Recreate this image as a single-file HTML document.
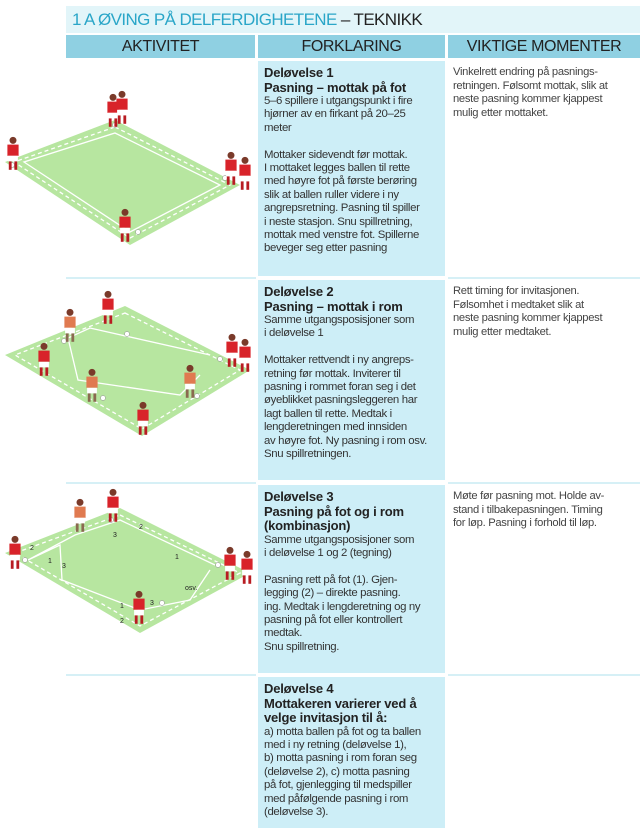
<!DOCTYPE html>
<html><head><meta charset="utf-8"><style>
body{margin:0;width:642px;height:828px;background:#fff;position:relative;overflow:hidden;font-family:"Liberation Sans Narrow","Liberation Sans",sans-serif;color:#333}
.abs{position:absolute}
.title{left:66px;top:6px;width:574px;height:27px;background:#e2f5f9;font-size:17px;line-height:27px;color:#2aa6c8;padding-left:6px;box-sizing:border-box;letter-spacing:-0.6px}
.title b{color:#222;font-weight:normal}
.hd{top:35px;height:23px;background:#8fd0e2;font-size:16px;line-height:23px;text-align:center;color:#222;letter-spacing:-0.4px}
.mid{left:258px;width:187px;background:#cdeef7;font-size:11.4px;line-height:13.4px;padding:5px 6px;box-sizing:border-box;color:#333;letter-spacing:-0.35px;white-space:nowrap;overflow:hidden}
.mid .t{font-weight:bold;font-size:13px;line-height:14.5px;color:#222;letter-spacing:-0.2px}
.rt{left:453px;width:187px;font-size:11.2px;line-height:13.6px;color:#444;letter-spacing:-0.3px;white-space:nowrap}
.hl{height:2px;background:#d6f0f6}
</style></head><body>
<div class="abs title">1 A ØVING PÅ DELFERDIGHETENE <b>– TEKNIKK</b></div>
<div class="abs hd" style="left:66px;width:189px">AKTIVITET</div>
<div class="abs hd" style="left:258px;width:187px">FORKLARING</div>
<div class="abs hd" style="left:448px;width:192px">VIKTIGE MOMENTER</div>

<div class="abs mid" style="top:61px;height:215px"><div class="t">Deløvelse 1<br>Pasning – mottak på fot</div>5–6 spillere i utgangspunkt i fire<br>hjørner av en firkant på 20–25<br>meter<br><br>Mottaker sidevendt før mottak.<br>I mottaket legges ballen til rette<br>med høyre fot på første berøring<br>slik at ballen ruller videre i ny<br>angrepsretning. Pasning til spiller<br>i neste stasjon. Snu spillretning,<br>mottak med venstre fot. Spillerne<br>beveger seg etter pasning</div>
<div class="abs mid" style="top:280px;height:200px"><div class="t">Deløvelse 2<br>Pasning – mottak i rom</div>Samme utgangsposisjoner som<br>i deløvelse 1<br><br>Mottaker rettvendt i ny angreps-<br>retning før mottak. Inviterer til<br>pasning i rommet foran seg i det<br>øyeblikket pasningsleggeren har<br>lagt ballen til rette. Medtak i<br>lengderetningen med innsiden<br>av høyre fot. Ny pasning i rom osv.<br>Snu spillretningen.</div>
<div class="abs mid" style="top:485px;height:188px"><div class="t">Deløvelse 3<br>Pasning på fot og i rom<br>(kombinasjon)</div>Samme utgangsposisjoner som<br>i deløvelse 1 og 2 (tegning)<br><br>Pasning rett på fot (1). Gjen-<br>legging (2) – direkte pasning.<br>ing. Medtak i lengderetning og ny<br>pasning på fot eller kontrollert<br>medtak.<br>Snu spillretning.</div>
<div class="abs mid" style="top:677px;height:151px"><div class="t">Deløvelse 4<br>Mottakeren varierer ved å<br>velge invitasjon til å:</div>a) motta ballen på fot og ta ballen<br>med i ny retning (deløvelse 1),<br>b) motta pasning i rom foran seg<br>(deløvelse 2), c) motta pasning<br>på fot, gjenlegging til medspiller<br>med påfølgende pasning i rom<br>(deløvelse 3).</div>

<div class="abs rt" style="top:66px">Vinkelrett endring på pasnings-<br>retningen. Følsomt mottak, slik at<br>neste pasning kommer kjappest<br>mulig etter mottaket.</div>
<div class="abs rt" style="top:285px">Rett timing for invitasjonen.<br>Følsomhet i medtaket slik at<br>neste pasning kommer kjappest<br>mulig etter medtaket.</div>
<div class="abs rt" style="top:490px">Møte før pasning mot. Holde av-<br>stand i tilbakepasningen. Timing<br>for løp. Pasning i forhold til løp.</div>

<div class="abs hl" style="left:66px;width:190px;top:277px"></div>
<div class="abs hl" style="left:448px;width:192px;top:277px"></div>
<div class="abs hl" style="left:66px;width:190px;top:482px"></div>
<div class="abs hl" style="left:448px;width:192px;top:482px"></div>
<div class="abs hl" style="left:66px;width:190px;top:674px"></div>
<div class="abs hl" style="left:448px;width:192px;top:674px"></div>

<svg class="abs" style="left:0;top:0" width="256" height="828">
<defs><g id="p0"><circle cx="0" cy="-14" r="2.5" fill="#7a3a2a"/><rect x="-4" y="-11" width="8" height="8" fill="#d8232a"/><rect x="-3.5" y="-3" width="7" height="4" fill="#fff"/><rect x="-3" y="1" width="2" height="6" fill="#b81c22"/><rect x="1" y="1" width="2" height="6" fill="#b81c22"/></g>
<g id="p"><use href="#p0" transform="scale(1.4)"/></g>
<g id="o0"><circle cx="0" cy="-14" r="2.5" fill="#7a3a2a"/><rect x="-4" y="-11" width="8" height="8" fill="#e07a50"/><rect x="-3.5" y="-3" width="7" height="4" fill="#fff"/><rect x="-3" y="1" width="2" height="6" fill="#8a6a50"/><rect x="1" y="1" width="2" height="6" fill="#8a6a50"/></g>
<g id="o"><use href="#o0" transform="scale(1.4)"/></g></defs>
<g fill="#b7e6a0" stroke="none">
<polygon points="115,120 240,185 130,245 5,162"/>
<polygon points="125,306 250,370 142,436 5,355"/>
<polygon points="120,508 250,573 140,633 5,553"/>
</g>
<g fill="none" stroke="#fff" stroke-width="1.3">
<polygon points="115,127 230,185 130,238 14,162" stroke-dasharray="4,3"/>
<polygon points="115,133 220,185 130,232 24,162"/>
<polygon points="125,313 240,370 142,429 15,355" stroke-dasharray="4,3"/>
<polyline points="210,355 90,328 68,338 78,380 180,395 200,375"/>
<polygon points="120,515 240,573 140,626 15,553" stroke-dasharray="4,3"/>
<polyline points="215,565 120,520 75,535 28,560 60,545 62,580 140,610 190,600 210,570"/>
</g>
<g fill="#fff" stroke="#888" stroke-width="0.5"><circle cx="115" cy="125" r="2.5"/><circle cx="225" cy="178" r="2.5"/><circle cx="138" cy="232" r="2.5"/><circle cx="12" cy="165" r="2.5"/>
<circle cx="127" cy="334" r="2.5"/><circle cx="64" cy="341" r="2.5"/><circle cx="220" cy="359" r="2.5"/><circle cx="103" cy="398" r="2.5"/><circle cx="197" cy="396" r="2.5"/>
<circle cx="111" cy="520" r="2.5"/><circle cx="25" cy="560" r="2.5"/><circle cx="218" cy="565" r="2.5"/><circle cx="162" cy="603" r="2.5"/></g>
<use href="#p" x="113" y="117"/><use href="#p" x="122" y="114"/><use href="#p" x="13" y="160"/><use href="#p" x="231" y="175"/><use href="#p" x="245" y="180"/><use href="#p" x="125" y="232"/>
<use href="#p" x="108" y="314"/><use href="#o" x="70" y="332"/><use href="#p" x="44" y="366"/><use href="#p" x="232" y="357"/><use href="#p" x="245" y="362"/><use href="#o" x="92" y="392"/><use href="#o" x="190" y="388"/><use href="#p" x="143" y="425"/>
<use href="#p" x="113" y="512"/><use href="#o" x="80" y="522"/><use href="#p" x="15" y="559"/><use href="#p" x="230" y="570"/><use href="#p" x="247" y="574"/><use href="#p" x="139" y="614"/>
<g font-size="7" fill="#222" font-family="Liberation Sans,sans-serif"><text x="139" y="529">2</text><text x="113" y="537">3</text><text x="30" y="550">2</text><text x="48" y="563">1</text><text x="62" y="568">3</text><text x="175" y="559">1</text><text x="185" y="590">osv.</text><text x="150" y="605">3</text><text x="120" y="608">1</text><text x="120" y="623">2</text></g>
</svg>
</body></html>
